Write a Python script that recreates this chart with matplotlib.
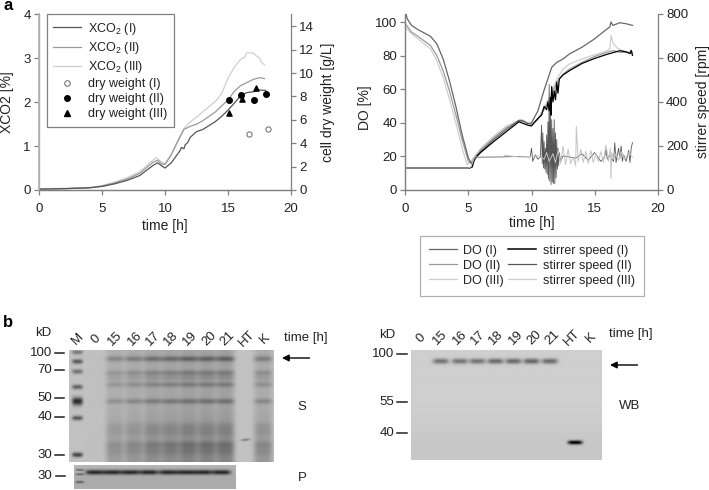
import numpy as np
import matplotlib
matplotlib.use("Agg")
import matplotlib.pyplot as plt
from matplotlib.lines import Line2D

plt.rcParams['font.family'] = ['Liberation Sans', 'DejaVu Sans']
plt.rcParams['mathtext.default'] = 'regular'
plt.rcParams['font.size'] = 10
TXT = '#222222'
AX = '#808080'
C1, C2, C3 = '#555555', '#9a9a9a', '#cfcfcf'

# ---- panel a, left
x1_t = [0,2,4,5,6,7,8,9,9.4,9.7,10,10.5,11,11.2,11.3,11.5,11.6,11.8,12,12.5,13,13.5,14,14.5,15,15.5,16,16.5,17,17.5,18]
x1_v = [.02,.03,.05,.08,.14,.22,.33,.55,.62,.56,.50,.62,.82,.90,.97,.94,1.03,1.08,1.2,1.33,1.38,1.47,1.56,1.68,1.82,1.98,2.15,2.22,2.24,2.28,2.27]
x2_t = [0,2,4,5,6,7,8,9,9.4,9.7,10,10.5,11,11.5,12,12.5,13,13.5,14,14.5,15,15.5,16,16.5,17,17.5,17.9]
x2_v = [.02,.03,.05,.09,.16,.25,.38,.62,.68,.60,.58,.80,1.1,1.38,1.45,1.5,1.58,1.68,1.78,1.92,2.05,2.25,2.38,2.45,2.52,2.56,2.54]
x3_t = [0,2,4,5,6,7,8,9,9.3,9.7,10,10.5,11,11.5,12,12.5,13,13.5,14,14.5,15,15.5,16,16.3,16.5,17,17.5,17.7,17.9]
x3_v = [.03,.04,.06,.1,.18,.28,.42,.67,.74,.64,.6,.82,1.12,1.4,1.55,1.66,1.78,1.9,2.02,2.2,2.55,2.8,2.98,3.02,3.13,3.12,3.0,2.9,2.85]
dw1_t, dw1_v = [16.7, 18.2], [4.75, 5.2]
dw2_t, dw2_v = [15.05, 16.05, 17.1, 18.0], [7.65, 8.1, 7.65, 8.2]
dw3_t, dw3_v = [15.1, 16.1, 17.2], [6.55, 7.8, 8.7]

# ---- panel a, right
do1_t = [0,.05,.15,.5,1,1.5,2,2.5,3,3.5,4,4.5,5,5.3,5.5,6,7,8,9,9.3,9.7,10,10.5,11,11.6,12,12.5,13,14,15,16,16.2,16.3,16.45,17,17.5,18]
do1_v = [104,105,102,98,95.5,93.5,91.5,87,78,65,50,33,19,15,18,23,30,36,41.5,41.5,39.5,40,47,59.5,73,76,78,81,85,90,96,97,100,98,99.6,99,98]
do2_t = [0,.5,1,2,2.5,3,3.5,4,4.5,5,5.2,6,7,8,9,9.5,10,10.5,11,11.5,12,12.5,13,14,15,16,16.2,16.5,17,17.5,18]
do2_v = [99,94,91.5,86,80,71,59,45,30,17,16,24,31,37,41,40.5,39,42,48,55,64,69,72,76,79.5,82,82.5,83,82,82,82]
do3_t = [0,.5,1,2,2.5,3,3.5,4,4.5,4.9,5.2,6,7,8,9,9.5,10,10.5,11,11.5,12,12.5,13,14,15,16,16.2,16.3,16.5,16.8,17.2,17.6,18]
do3_v = [97,93,90,84,77,67,54,40,25,15,17,25,32,38,41.5,40.5,39,42,49,57,66,72,75,78,80.5,83,84,92,87,84.5,83,82,81]
st1_t = [0,5.1,5.3,5.5,6,7,8,9,9.7,10,10.5,10.8,11,11.2,11.3,11.4,11.5,11.55,11.6,11.7,11.8,11.9,12,12.1,12.2,12.5,13,14,15,16,17,17.5,17.8,17.9,18]
st1_v = [100,100,105,145,172,220,265,310,295,291,325,340,380,365,400,360,420,340,470,400,450,410,490,440,505,523,542,575,598,617,633,628,620,635,612]
st2_t = [0,5.1,5.3,5.5,7,9,9.9,10,10.1,10.3,10.5,10.7,10.8,10.85,10.9,10.95,11,11.05,11.1,11.15,11.2,11.25,11.3,11.35,11.4,11.45,11.5,11.55,11.6,11.65,11.7,11.75,11.8,11.85,11.9,11.95,12,12.05,12.1,12.15,12.2,12.3,12.5,13,13.5,14,14.5,15,15.5,15.8,15.9,16,16.2,16.5,16.6,16.7,16.9,17,17.1,17.2,17.3,17.5,17.7,17.8,17.9,18]
st2_v = [100,100,103,148,150,152,150,190,130,160,140,150,295,120,260,100,220,95,190,80,250,70,310,50,480,40,350,25,320,35,280,30,320,28,260,55,230,95,190,110,170,130,155,150,145,165,135,170,130,150,190,140,160,130,215,125,190,145,200,130,160,130,180,125,190,215]
st3_t = [0,5.0,5.2,5.5,7,7.8,7.85,9,10,10.5,11,11.2,11.4,11.7,11.9,12.1,12.3,12.5,12.7,12.9,13.1,13.3,13.5,13.55,13.7,13.9,14.1,14.3,14.5,14.7,14.9,15.1,15.3,15.5,15.7,15.9,16.1,16.25,16.3,16.35,16.5,16.7,16.9,17.1,17.4,17.7,18]
st3_v = [100,100,105,150,150,150,158,150,153,155,140,170,130,165,125,180,120,200,115,185,120,150,110,290,130,185,125,175,120,180,125,165,130,175,125,205,130,190,52,170,140,165,135,175,140,170,150]

# ---- gels
lanes_s_x = [285, 345, 402, 458, 512, 566, 621, 676, 790]
lanes_s_w = [.03, .6, .7, .85, .9, 1.0, 1.0, 1.0, .7]
s_bands_y = [148, 190, 205, 225, 275, 350, 368, 405, 425]
s_bands_d = [.26, .16, .08, .16, .20, .07, .07, .12, .08]
m_bands_y = [128, 156, 186, 232, 275, 325, 435]
m_bands_d = [.28, .42, .32, .38, .6, .42, .5]
p_lanes_x = [285, 338, 392, 447, 505, 558, 610, 665]
wb_lanes_x = [243, 300, 353, 407, 461, 515, 570]
wb_lanes_d = [.36, .36, .36, .40, .40, .42, .40]

labels_s = ['M', '0', '15', '16', '17', '18', '19', '20', '21', 'HT', 'K']
labels_s_x = [233, 287, 345, 405, 460, 513, 570, 628, 683, 740, 795]
labels_wb = ['0', '15', '16', '17', '18', '19', '20', '21', 'HT', 'K']
labels_wb_x = [183, 240, 300, 353, 408, 467, 522, 577, 637, 692]
kd_s, kd_s_y = ['100', '70', '50', '40', '30'], [128, 181, 264, 320, 435]
kd_wb, kd_wb_y = ['100', '55', '40'], [131, 275, 369]

W, H = 709, 490
fig = plt.figure(figsize=(W/100, H/100), dpi=100)

def axrect(l, t, r, b):
    return [l/W, 1-b/H, (r-l)/W, (b-t)/H]

def style(ax):
    for s in ax.spines.values():
        s.set_color(AX); s.set_linewidth(.9)
    ax.spines['top'].set_visible(False)
    ax.tick_params(colors=TXT, color=AX, length=3.5, width=.9, labelsize=9.5, pad=2.5)
    ax.tick_params(axis='x', pad=5.5)

# ---------- left chart
ax = fig.add_axes(axrect(39, 14.5, 291, 190))
ax.plot(x3_t, x3_v, color=C3, lw=.9)
ax.plot(x2_t, x2_v, color=C2, lw=.9)
ax.plot(x1_t, x1_v, color=C1, lw=.9)
ax.set_xlim(0, 20); ax.set_ylim(0, 4)
ax.set_xticks([0, 5, 10, 15, 20]); ax.set_yticks([0, 1, 2, 3, 4])
ax.set_xlabel('time [h]', color=TXT, va='center')
ax.xaxis.set_label_coords(.5, -.205)
ax.set_ylabel('XCO2 [%]', color=TXT, va='center')
ax.yaxis.set_label_coords(-.127, .5)
axr = ax.twinx()
axr.scatter(dw1_t, dw1_v, s=14, facecolors='white', edgecolors='#777777', linewidths=.8, zorder=3)
axr.scatter(dw2_t, dw2_v, s=16, color='black', zorder=3)
axr.scatter(dw3_t, dw3_v, s=14, marker='^', color='black', zorder=3)
axr.set_ylim(0, 15); axr.set_yticks(range(0, 15, 2))
axr.set_ylabel('cell dry weight [g/L]', color=TXT, va='center')
axr.yaxis.set_label_coords(1.147, .5)
style(ax); style(axr)
ax.spines['right'].set_visible(False)
axr.spines['left'].set_color('#b5b5b5'); axr.spines['left'].set_linewidth(1.3)
h = [Line2D([], [], color=C1, lw=.9), Line2D([], [], color=C2, lw=.9), Line2D([], [], color=C3, lw=.9),
     Line2D([], [], ls='', marker='o', ms=4, mfc='white', mec='#777777', mew=.8),
     Line2D([], [], ls='', marker='o', ms=4, color='black'),
     Line2D([], [], ls='', marker='^', ms=4, color='black')]
l = ['XCO$_2$ (I)', 'XCO$_2$ (II)', 'XCO$_2$ (III)', 'dry weight (I)', 'dry weight (II)', 'dry weight (III)']
leg = axr.legend(h, l, loc='upper left', bbox_to_anchor=(46.5/W, 1-14/H), bbox_transform=fig.transFigure,
                 borderaxespad=0, fancybox=False, framealpha=1, edgecolor=AX, labelcolor=TXT,
                 handlelength=2.24, handletextpad=.53, labelspacing=.25, borderpad=.55, fontsize=9)
leg.get_frame().set_linewidth(.9)
leg.set_zorder(10)

# ---------- right chart
bx = fig.add_axes(axrect(405.3, 14, 657.7, 190))
bx.plot(do3_t, do3_v, color=C3, lw=.9)
bx.plot(do2_t, do2_v, color=C2, lw=.9)
bx.plot(do1_t, do1_v, color='#666666', lw=.9)
bx.set_xlim(0, 20); bx.set_ylim(0, 104.8)
bx.set_xticks([0, 5, 10, 15, 20]); bx.set_yticks([0, 20, 40, 60, 80, 100])
bx.set_xlabel('time [h]', color=TXT, va='center')
bx.xaxis.set_label_coords(.5, -.19)
bx.set_ylabel('DO [%]', color=TXT, va='center')
bx.yaxis.set_label_coords(-.16, .47)
bxr = bx.twinx()
bxr.plot(st2_t, st2_v, color='#555555', lw=.6)
bxr.plot(st1_t, st1_v, color='black', lw=.9)
bxr.plot(st3_t, st3_v, color='#c4c4c4', lw=.7)
bxr.set_ylim(0, 800); bxr.set_yticks([0, 200, 400, 600, 800])
bxr.set_ylabel('stirrer speed [rpm]', color=TXT, va='center')
bxr.yaxis.set_label_coords(1.178, .5)
style(bx); style(bxr)
bx.spines['right'].set_visible(False)
h = [Line2D([], [], color='#666666', lw=.9), Line2D([], [], color=C2, lw=.9), Line2D([], [], color=C3, lw=.9),
     Line2D([], [], color='black', lw=1.1), Line2D([], [], color='#555555', lw=.9), Line2D([], [], color=C3, lw=.9)]
l = ['DO (I)', 'DO (II)', 'DO (III)', 'stirrer speed (I)', 'stirrer speed (II)', 'stirrer speed (III)']
leg2 = bxr.legend(h, l, ncol=2, loc='upper left', bbox_to_anchor=(420/W, 1-236/H), bbox_transform=fig.transFigure,
                  borderaxespad=0, fancybox=False, framealpha=1, edgecolor='#b0b0b0', labelcolor=TXT,
                  handlelength=2.24, handletextpad=.53, labelspacing=.24, columnspacing=.35, borderpad=.7, fontsize=9)
leg2.get_frame().set_linewidth(.9)

# ---------- overlay in image pixels
ov = fig.add_axes([0, 0, 1, 1])
ov.axis('off')

def gel(x0, x1, y0, y1, bg, add):
    """x,y in 3x-zoom units of the crop; add(xx,yy) returns darkening"""
    xs = np.linspace(x0, x1, int((x1-x0))+1)
    ys = np.linspace(y0, y1, int((y1-y0))+1)
    xx, yy = np.meshgrid(xs, ys)
    return np.clip(bg - add(xx, yy), 0, 1)

def lane(xx, xc, w):
    return np.exp(-((xx-xc)/w)**4)

def band(yy, yc, s):
    return np.exp(-((yy-yc)/s)**2)

def s_add(xx, yy):
    d = np.zeros_like(xx, dtype=float)
    for xc, wt in zip(lanes_s_x, lanes_s_w):
        L = lane(xx, xc, 28)
        d += L*wt*.13
        d += L*wt*.12*np.clip((yy-290)/170, 0, 1)
        for yc, dp in zip(s_bands_y, s_bands_d):
            d += L*wt*dp*band(yy, yc, 8 if yc < 300 else 12)
    Lm = lane(xx, 232, 16)
    for yc, dp in zip(m_bands_y, m_bands_d):
        d += Lm*dp*band(yy, yc, 7 if yc != 275 else 12)
    d += np.exp(-((xx-737)/13)**2)*.28*band(yy, 390-(xx-737)*.1, 3.5)
    return d

def p_add(xx, yy):
    d = np.zeros_like(xx, dtype=float)
    for xc in p_lanes_x:
        d += lane(xx, xc, 28)*.55*band(yy, 489, 7)
    L = lane(xx, 240, 12)
    d += L*.35*(band(yy, 482, 2.5)+band(yy, 495, 2.5)+band(yy, 518, 3))
    d += np.exp(-((yy-520)/40)**2)*.05
    return d

def wb_add(xx, yy):
    d = np.zeros_like(xx, dtype=float)
    for xc, dp in zip(wb_lanes_x, wb_lanes_d):
        d += lane(xx, xc, 24)*dp*band(yy, 155, 8)
    d += lane(xx, 646, 22)*.8*band(yy, 398, 6)
    d += .03*np.exp(-((yy-420)/80)**2) - .02
    return d

cm = 'gray'
ov.imshow(gel(207, 822, 122, 456, .76, s_add), cmap=cm, vmin=0, vmax=1, aspect='auto',
          extent=(69, 274, 462, 350.7), interpolation='bilinear')
ov.imshow(gel(223, 708, 468, 538, .72, p_add), cmap=cm, vmin=0, vmax=1, aspect='auto',
          extent=(74.3, 236, 489.3, 466), interpolation='bilinear')
ov.imshow(gel(154, 726, 122, 450, .79, wb_add), cmap=cm, vmin=0, vmax=1, aspect='auto',
          extent=(411.3, 602, 460, 350.7), interpolation='bilinear')
ov.set_xlim(0, W); ov.set_ylim(H, 0)

def T(x, y, s, **k):
    k.setdefault('ha', 'center'); k.setdefault('va', 'center'); k.setdefault('color', TXT)
    k.setdefault('fontsize', 9.5)
    ov.text(x, y, s, **k)

T(3, 6, 'a', ha='left', fontweight='bold', fontsize=12, color='black')
T(3, 322, 'b', ha='left', fontweight='bold', fontsize=12, color='black')

T(43, 333, 'kD')
for s, y in zip(kd_s, kd_s_y):
    T(52, 310+y/3, s, ha='right')
    ov.plot([55, 64], [310+y/3]*2, color=TXT, lw=1.1)
T(52, 310+497/3, '30', ha='right')
ov.plot([56, 65], [310+497/3]*2, color=TXT, lw=1.1)
for s, x in zip(labels_s, labels_s_x):
    T(x/3, 339, s, rotation=45, rotation_mode='anchor')
T(306, 337.5, 'time [h]')
T(302, 407, 'S'); T(302, 478, 'P')
ov.annotate('', xy=(282, 358), xytext=(309.5, 358),
            arrowprops=dict(arrowstyle='-|>', color='black', lw=1, mutation_scale=10, shrinkA=0, shrinkB=0))

T(387, 335, 'kD')
for s, y in zip(kd_wb, kd_wb_y):
    T(360+102/3, 310+y/3, s, ha='right')
    ov.plot([360+112/3, 360+140/3], [310+y/3]*2, color=TXT, lw=1.1)
for s, x in zip(labels_wb, labels_wb_x):
    T(360+x/3, 338, s, rotation=45, rotation_mode='anchor')
T(631, 334, 'time [h]')
T(630, 406, 'WB')
ov.annotate('', xy=(610, 365), xytext=(637.5, 365),
            arrowprops=dict(arrowstyle='-|>', color='black', lw=1, mutation_scale=10, shrinkA=0, shrinkB=0))

fig.savefig('out.png', dpi=100)
